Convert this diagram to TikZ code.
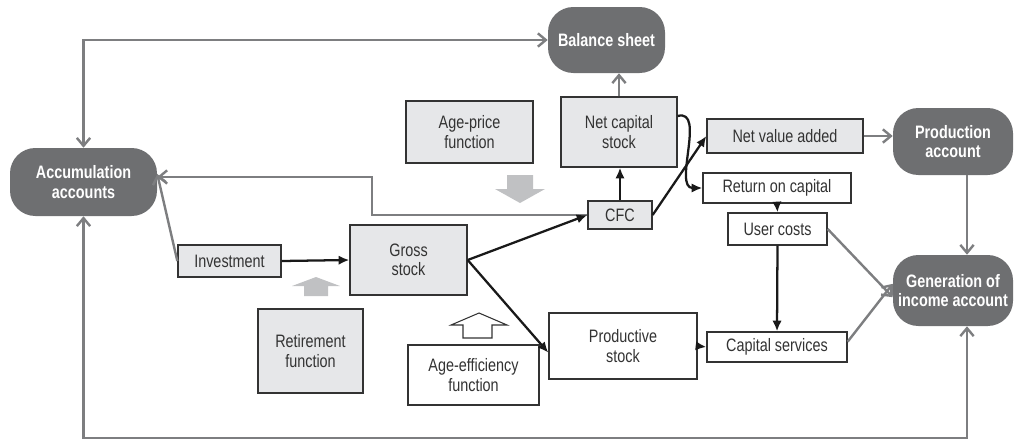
\documentclass[tikz,border=0pt]{standalone}
\usepackage{fontspec}
\setmainfont{Liberation Sans}[FakeStretch=0.8]
\usetikzlibrary{arrows.meta}

\definecolor{acctfill}{RGB}{110,111,113}
\definecolor{boxfill}{RGB}{230,231,233}
\definecolor{lineg}{RGB}{125,126,128}
\definecolor{blockg}{RGB}{192,193,195}

\tikzset{
  sz/.style 2 args={minimum width=#1*0.75pt, minimum height=#2*0.75pt},
  acct/.style={fill=acctfill, text=white, rounded corners=19pt, font=\bfseries, align=center, inner sep=0pt},
  greybox/.style={draw=black!80, line width=1pt, fill=boxfill, text=black!80, align=center, inner sep=0pt},
  whitebox/.style={greybox, fill=white},
  gline/.style={draw=lineg, line width=1.8pt, >={Straight Barb[length=6pt,width=10pt]}},
  bline/.style={draw=black!90, line width=1.7pt, >={Latex[length=8pt,width=7pt]}},
}

\begin{document}
\begin{tikzpicture}[x=0.75pt,y=0.75pt,yscale=-1,xscale=1]
\fontsize{13.5}{14.6}\selectfont
\useasboundingbox (0,0) rectangle (1014,440);

% Accounts
\node[acct, sz={117}{66}] (bal) at (606.5,40) {Balance sheet};
\node[acct, sz={147}{68}] (acc) at (83.5,182) {Accumulation\\accounts};
\node[acct, sz={120}{67}] (prod) at (953,141.5) {Production\\account};
\node[acct, sz={120}{71}] (gen) at (953,290.5) {Generation of\\income account};

% Text Node
\node[greybox, sz={127}{62}] (agep) at (469.5,132) {Age-price\\function};
\node[greybox, sz={116}{70}] (ncs) at (619,132) {Net capital\\stock};
\node[greybox, sz={156}{34}] (nva) at (785,136) {Net value added};
\node[greybox, sz={64}{28}] (cfc) at (620,215) {CFC};
\node[greybox, sz={103}{32}] (inv) at (229.5,261) {Investment};
\node[greybox, sz={117}{70}] (gross) at (408.5,260) {Gross\\stock};
\node[greybox, sz={105}{84}] (ret) at (310.5,351) {Retirement\\function};

\node[whitebox, sz={148}{30}] (roc) at (777,188) {Return on capital};
\node[whitebox, sz={99}{32}] (uc) at (777.5,229) {User costs};
\node[whitebox, sz={148}{66}] (ps) at (623,346) {Productive\\stock};
\node[whitebox, sz={140}{30}] (cs) at (777,347) {Capital services};
\node[whitebox, sz={131}{60}] (aef) at (473.5,375) {Age-efficiency\\function};

% Block arrows
\fill[blockg] (507,175) -- (533,175) -- (533,189) -- (545,189) -- (520,203) -- (495,189) -- (507,189) -- cycle;
\fill[blockg] (304,296) -- (328,296) -- (328,286) -- (340,286) -- (316,277) -- (292,286) -- (304,286) -- cycle;
\draw[black!80, line width=0.8pt, fill=white] (463,338) -- (492,338) -- (492,325) -- (507,325) -- (479,313) -- (451,325) -- (463,325) -- cycle;

\coordinate (k1) at (372,177);
\coordinate (rx) at (967,0);
\coordinate (bot) at (967,438);

%Straight Lines (grey)
\draw[gline,<->] (acc.north) |- (bal.west);
\draw[gline,->] (cfc.west) -| (k1) -- (acc.east |- k1);
\draw[gline,->] (inv.west) -- ([yshift=-6pt]acc.east);
\draw[gline,<->] (acc.south) |- (bot) -- (bot |- gen.south);
\draw[gline,->] (ncs.north) -- (ncs.north |- bal.south);
\draw[gline,->] (nva.east) -- (nva.east -| prod.west);
\draw[gline,->] (prod.south -| rx) -- (gen.north -| rx);
\draw[gline,->] (uc.east) -- ([yshift=5pt]gen.west);
\draw[gline,->] ([yshift=-4pt]cs.east) -- ([yshift=-5pt]gen.west);

%Straight Lines (black)
\draw[bline,->] (inv.east) -- (gross.west);
\draw[bline,->] (gross.east) -- (cfc.west);
\draw[bline,->] (gross.east) -- ([yshift=5pt]ps.west);
\draw[bline,->] (cfc.north) -- (cfc.north |- ncs.south);
\draw[bline,->] (cfc.east) -- (nva.west);
\draw[bline,->] ([yshift=-12pt]ncs.east) to[out=-15,in=180] (roc.west);
\draw[bline,->] (roc.south) -- (uc.north);
\draw[bline,->] (uc.south) -- (cs.north);
\draw[bline,->] (ps.east) -- (cs.west);

\end{tikzpicture}
\end{document}
